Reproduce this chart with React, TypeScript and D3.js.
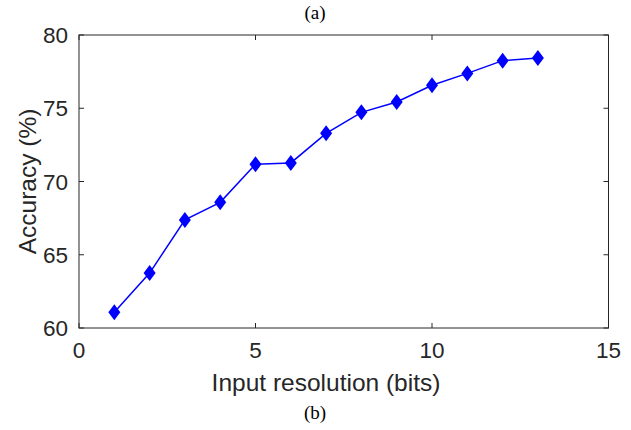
import React from "react";
import * as d3 from "d3";

const bits = [1, 2, 3, 4, 5, 6, 7, 8, 9, 10, 11, 12, 13];
const accuracy = [61.07, 63.75, 67.38, 68.58, 71.18, 71.27, 73.29, 74.72, 75.43, 76.57, 77.38, 78.25, 78.43];
const xTicks = [0, 5, 10, 15];
const yTicks = [60, 65, 70, 75, 80];

const W = 631, H = 430;
const L = 79, R = 608.5, T = 35, B = 328;

export default function App() {
  const x = d3.scaleLinear().domain([0, 15]).range([L, R]);
  const y = d3.scaleLinear().domain([60, 80]).range([B, T]);
  const line = d3.line<number>().x((_, i) => x(bits[i])).y((d) => y(d));
  const axisColor = "#262626";
  const sans = { fontFamily: "'Liberation Sans', Arimo, Helvetica, Arial, sans-serif" };
  const serif = { fontFamily: "'Liberation Serif', 'DejaVu Serif', 'Times New Roman', serif" };
  const tk = 5;
  return (
    <svg width={W} height={H} style={{ position: "absolute", left: 0, top: 0, background: "#fff" }}>
      <text x={315} y={19} textAnchor="middle" style={serif} fontSize={19} fill="#000">(a)</text>
      <text x={315} y={419} textAnchor="middle" style={serif} fontSize={19} fill="#000">(b)</text>
      <rect x={L} y={T} width={R - L} height={B - T} fill="none" stroke={axisColor} strokeWidth={1} />
      {xTicks.map((t) => (
        <g key={"x" + t}>
          <line x1={x(t)} x2={x(t)} y1={B} y2={B - tk} stroke={axisColor} />
          <line x1={x(t)} x2={x(t)} y1={T} y2={T + tk} stroke={axisColor} />
          <text x={x(t)} y={358} textAnchor="middle" style={sans} fontSize={22.5} fill={axisColor}>{t}</text>
        </g>
      ))}
      {yTicks.map((t) => (
        <g key={"y" + t}>
          <line x1={L} x2={L + tk} y1={y(t)} y2={y(t)} stroke={axisColor} />
          <line x1={R} x2={R - tk} y1={y(t)} y2={y(t)} stroke={axisColor} />
          <text x={68} y={y(t) + 8} textAnchor="end" style={sans} fontSize={22.5} fill={axisColor}>{t}</text>
        </g>
      ))}
      <text x={326} y={391} textAnchor="middle" style={sans} fontSize={24.5} fill={axisColor}>Input resolution (bits)</text>
      <text transform={`translate(36,${(T + B) / 2}) rotate(-90)`} textAnchor="middle" style={sans} fontSize={24.5} fill={axisColor}>Accuracy (%)</text>
      <path d={line(accuracy) || ""} fill="none" stroke="#0000ff" strokeWidth={1.5} />
      {accuracy.map((v, i) => {
        const cx = x(bits[i]), cy = y(v);
        return (
          <path key={i} d={`M${cx},${cy - 8}L${cx + 6},${cy}L${cx},${cy + 8}L${cx - 6},${cy}Z`} fill="#0000ff" />
        );
      })}
    </svg>
  );
}
